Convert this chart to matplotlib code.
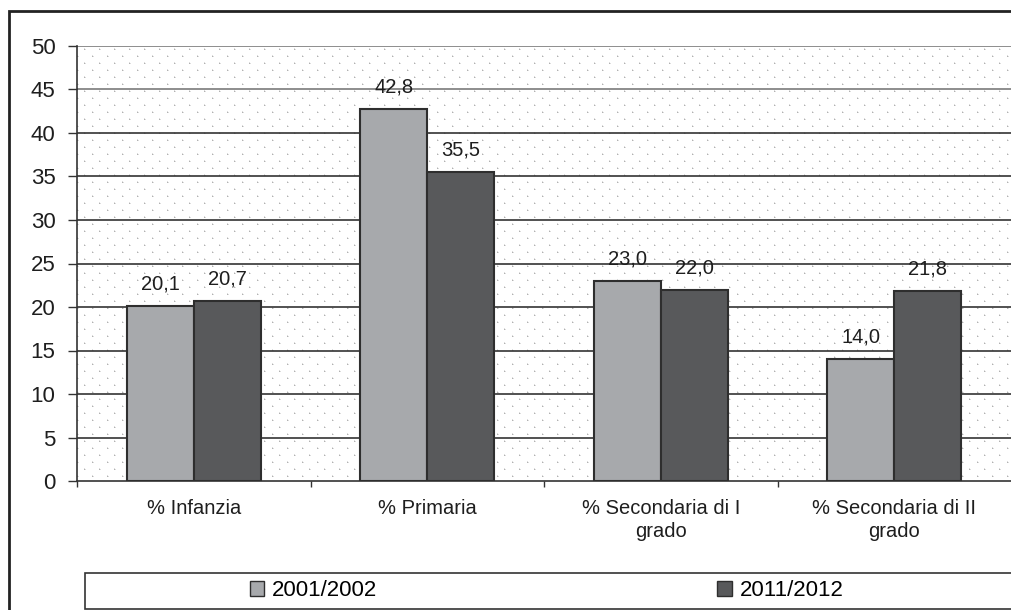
import matplotlib
matplotlib.use("Agg")
import matplotlib.pyplot as plt
import numpy as np
from matplotlib.patches import Patch
from matplotlib.lines import Line2D

categories = ["% Infanzia", "% Primaria", "% Secondaria di I\ngrado", "% Secondaria di II\ngrado"]
series_names = ["2001/2002", "2011/2012"]
values_2001 = [20.1, 42.8, 23.0, 14.0]
values_2011 = [20.7, 35.5, 22.0, 21.8]
yticks = [0, 5, 10, 15, 20, 25, 30, 35, 40, 45, 50]

colors = ["#A7A9AC", "#58595B"]
edge = "#2e2e2e"
txt = "#1e1e1e"

plt.rcParams['font.family'] = ['Liberation Sans', 'DejaVu Sans']

W, H = 1011, 610
fig = plt.figure(figsize=(W/100, H/100), dpi=100)
ax_l, ax_r, ax_t, ax_b = 77, 1011, 46, 481
ax = fig.add_axes([ax_l/W, 1-ax_b/H, (ax_r-ax_l)/W, (ax_b-ax_t)/H])

# dotted background texture (decoration only)
pw, ph = ax_r-ax_l, ax_b-ax_t
tex = np.ones((ph, pw, 3))
cols = np.arange(pw)
for r in range(ph):
    if r % 7 == 3:
        off = 7 if (r // 7) % 2 == 0 else 0
        cs = cols[(cols % 15) == off]
        tex[r, cs, :] = 0.70
        rr = max(r-1, 0)
        tex[rr, cs, :] = np.minimum(tex[rr, cs, :], 0.87)
        cs2 = np.clip(cs+1, 0, pw-1)
        tex[r, cs2, :] = np.minimum(tex[r, cs2, :], 0.87)
ax.imshow(tex, extent=(0, 1, 0, 1), transform=ax.transAxes, aspect='auto',
          interpolation='nearest', zorder=0)

x = np.arange(len(categories))
w = 0.286
b1 = ax.bar(x - w/2, values_2001, w, color=colors[0], edgecolor=edge, lw=1.5, zorder=3)
b2 = ax.bar(x + w/2, values_2011, w, color=colors[1], edgecolor=edge, lw=1.5, zorder=3)

for bars, vals in ((b1, values_2001), (b2, values_2011)):
    for r, v in zip(bars, vals):
        ax.annotate(f"{v:.1f}".replace('.', ','), (r.get_x() + r.get_width()/2, v),
                    xytext=(0, 9), textcoords='offset points', ha='center', va='bottom',
                    fontsize=14.5, color=txt)

ax.set_ylim(0, 50)
ax.set_xlim(-0.5, 3.5)
ax.set_yticks(yticks)
ax.set_yticklabels([str(t) for t in yticks], fontsize=16, color=txt)
for t in yticks[1:]:
    ax.axhline(t, color='#7a7a7a' if t >= 45 else '#333333', lw=1.2, zorder=1)

ax.set_xticks(x)
ax.set_xticklabels(categories, fontsize=14.5, color=txt, linespacing=1.25)
ax.tick_params(axis='x', which='major', length=0, pad=13)
ax.set_xticks([-0.5, 0.5, 1.5, 2.5], minor=True)
ax.tick_params(axis='x', which='minor', length=4.5, width=1, color='#333333', direction='out')
ax.tick_params(axis='y', length=6.5, width=1, color='#333333', direction='out', pad=9)

for s in ['top', 'right']:
    ax.spines[s].set_visible(False)
for s in ['left', 'bottom']:
    ax.spines[s].set_color('#333333')
    ax.spines[s].set_linewidth(1.2)

# outer border (left and top sides; right/bottom are outside the image)
fig.add_artist(Line2D([9/W, 9/W, 1.0], [0.0, 1 - 11/H, 1 - 11/H], transform=fig.transFigure,
                      color='#222222', lw=2, solid_joinstyle='miter', solid_capstyle='butt'))
# legend box (right side outside image)
lb, lt = 1 - 609/H, 1 - 573/H
fig.add_artist(Line2D([1.0, 85/W, 85/W, 1.0], [lb, lb, lt, lt], transform=fig.transFigure,
                      color='#333333', lw=1.2, solid_joinstyle='miter', solid_capstyle='butt'))

handles = [Patch(facecolor=colors[0], edgecolor=edge, lw=1), Patch(facecolor=colors[1], edgecolor=edge, lw=1)]
fig.legend(handles, series_names, loc='center left', bbox_to_anchor=(250/W, 1 - 591/H),
           ncol=2, frameon=False, fontsize=16, handlelength=0.65, handleheight=0.65,
           handletextpad=0.35, columnspacing=15.3, borderpad=0, borderaxespad=0)

fig.savefig("out.png", dpi=100)
